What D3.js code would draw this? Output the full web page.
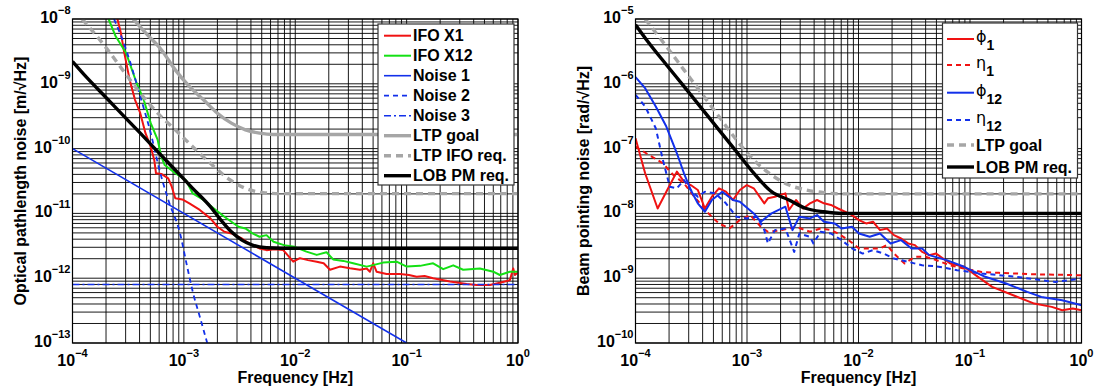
<!DOCTYPE html>
<html><head><meta charset="utf-8">
<script src="https://cdn.jsdelivr.net/npm/d3@7"></script>
<style>
html,body{margin:0;padding:0;background:#fff;}
svg{display:block;}
text{font-family:"Liberation Sans",Arial,Helvetica,sans-serif;font-weight:bold;fill:#000;}
</style></head>
<body>
<script>
// ---------- ticks ----------
const xTicks = [1e-4, 1e-3, 1e-2, 1e-1, 1];
const xTickExp = ["\u22124", "\u22123", "\u22122", "\u22121", "0"];
const yTicksL = [1e-13, 1e-12, 1e-11, 1e-10, 1e-9, 1e-8];
const yTickExpL = ["\u221213", "\u221212", "\u221211", "\u221210", "\u22129", "\u22128"];
const yTicksR = [1e-10, 1e-9, 1e-8, 1e-7, 1e-6, 1e-5];
const yTickExpR = ["\u221210", "\u22129", "\u22128", "\u22127", "\u22126", "\u22125"];

// ---------- left panel series [frequency Hz, value] ----------
const ifoX1 = [[2.53e-4,1e-8],[2.72e-4,6.08e-9],[2.92e-4,2.98e-9],[3.26e-4,1.15e-9],[3.64e-4,5.66e-10],[4.06e-4,3.52e-10],[4.52e-4,1.73e-10],[5.04e-4,1.07e-10],[5.42e-4,6.68e-11],[5.62e-4,4.16e-11],[6.27e-4,4.06e-11],[7.24e-4,3.48e-11],[7.78e-4,2.58e-11],[8.37e-4,1.71e-11],[9.68e-4,1.64e-11],[1.12e-3,1.43e-11],[1.39e-3,1.13e-11],[1.73e-3,8.38e-12],[2.00e-3,6.22e-12],[2.31e-3,5.20e-12],[2.67e-3,4.91e-12],[3.32e-3,4.10e-12],[3.84e-3,3.44e-12],[4.78e-3,2.88e-12],[5.52e-3,2.71e-12],[6.5e-3,2.80e-12],[7.80e-3,2.72e-12],[9.59e-3,1.80e-12],[1.10e-2,2.04e-12],[1.30e-2,1.90e-12],[1.56e-2,1.80e-12],[1.80e-2,1.70e-12],[2.05e-2,1.35e-12],[2.52e-2,1.51e-12],[3.10e-2,1.42e-12],[3.81e-2,1.35e-12],[4.38e-2,1.41e-12],[4.68e-2,1.26e-12],[5.01e-2,1.70e-12],[5.37e-2,1.26e-12],[6.61e-2,1.16e-12],[8.71e-2,1.16e-12],[1.05e-1,1.12e-12],[1.23e-1,1.05e-12],[1.45e-1,1.08e-12],[1.73e-1,1.0e-12],[2.45e-1,8.91e-13],[3.46e-1,8.13e-13],[4.25e-1,7.85e-13],[5.60e-1,7.85e-13],[6.87e-1,8.51e-13],[8.45e-1,9.33e-13],[9.06e-1,1.41e-12],[9.38e-1,1.12e-12],[1,1.22e-12]];
const ifoX12 = [[2.11e-4,1e-8],[2.44e-4,5.40e-9],[3.03e-4,2.98e-9],[3.77e-4,1.02e-9],[4.36e-4,5.66e-10],[5.04e-4,2.47e-10],[5.82e-4,1.36e-10],[6.27e-4,7.52e-11],[6.73e-4,5.58e-11],[8.37e-4,4.16e-11],[1.04e-3,3.27e-11],[1.20e-3,2.04e-11],[1.50e-3,1.61e-11],[1.86e-3,1.19e-11],[2.31e-3,8.87e-12],[3.09e-3,6.22e-12],[3.57e-3,5.86e-12],[4.13e-3,4.91e-12],[4.78e-3,4.36e-12],[5.52e-3,4.62e-12],[6.38e-3,3.65e-12],[7.93e-3,3.24e-12],[9.86e-3,3.05e-12],[1.26e-2,2.57e-12],[1.56e-2,2.29e-12],[1.91e-2,2.51e-12],[2.19e-2,1.95e-12],[2.7e-2,1.85e-12],[3.31e-2,1.70e-12],[4.38e-2,1.51e-12],[5.2e-2,1.62e-12],[6.17e-2,1.74e-12],[8.13e-2,1.80e-12],[1.0e-1,1.51e-12],[1.32e-1,1.55e-12],[1.73e-1,1.70e-12],[2.13e-1,1.38e-12],[2.62e-1,1.58e-12],[3.22e-1,1.35e-12],[4.55e-1,1.41e-12],[6.00e-1,1.26e-12],[6.87e-1,1.12e-12],[8.45e-1,1.26e-12],[1,1.26e-12]];
const noise1 = [[1e-4,1e-10],[1e-1,1e-13]];
const noise2 = [[2.36e-4,1e-8],[3.03e-4,3.36e-9],[4.06e-4,6.37e-10],[5.04e-4,1.73e-10],[6.04e-4,4.68e-11],[7.24e-4,1.62e-11],[9.23e-4,4.93e-12],[1.07e-3,1.51e-12],[1.21e-3,5.89e-13],[1.39e-3,2.55e-13],[1.62e-3,1e-13]];
const noise3 = [[1e-4,8.0e-13],[1,8.0e-13]];
const ltpGoalL = [[3.51e-4,1e-8],[4.69e-4,5.73e-9],[6.27e-4,3.36e-9],[8.37e-4,1.64e-9],[1.12e-3,9.10e-10],[1.50e-3,5.66e-10],[2.00e-3,3.52e-10],[2.67e-3,2.47e-10],[3.57e-3,1.95e-10],[4.78e-3,1.73e-10],[6.38e-3,1.65e-10],[1e-2,1.65e-10],[1,1.65e-10]];
const ltpIfoReqL = [[1.22e-4,1e-8],[1.96e-4,3.78e-9],[2.82e-4,1.64e-9],[4.06e-4,7.18e-10],[5.82e-4,3.52e-10],[8.37e-4,1.95e-10],[1.20e-3,1.07e-10],[1.73e-3,5.93e-11],[2.48e-3,3.48e-11],[3.57e-3,2.44e-11],[5.13e-3,2.09e-11],[7.38e-3,2.02e-11],[1,2.02e-11]];
const lobPmL = [[1e-4,2.21e-9],[1.36e-4,1.22e-9],[1.96e-4,6.37e-10],[2.82e-4,3.32e-10],[4.06e-4,1.73e-10],[5.82e-4,8.99e-11],[8.37e-4,4.68e-11],[1.20e-3,2.44e-11],[1.73e-3,1.27e-11],[2.15e-3,7.89e-12],[2.67e-3,5.20e-12],[3.32e-3,3.87e-12],[4.13e-3,3.24e-12],[5.52e-3,2.95e-12],[7.38e-3,2.9e-12],[1,2.9e-12]];

// ---------- right panel series ----------
const phi1 = [[1e-4,1.45e-7],[1.22e-4,4.17e-8],[1.58e-4,1.19e-8],[1.89e-4,2.16e-8],[2.35e-4,4.41e-8],[2.72e-4,3.09e-8],[3.13e-4,2.74e-8],[3.62e-4,2.30e-8],[4.19e-4,1.19e-8],[4.84e-4,1.81e-8],[5.60e-4,2.44e-8],[6.47e-4,2.16e-8],[7.48e-4,1.61e-8],[8.63e-4,2.30e-8],[9.98e-4,2.74e-8],[1.15e-3,2.44e-8],[1.33e-3,1.71e-8],[1.43e-3,1.43e-8],[1.54e-3,1.71e-8],[1.78e-3,1.81e-8],[2.21e-3,2.04e-8],[2.38e-3,1.13e-8],[2.75e-3,1.61e-8],[3.18e-3,1.19e-8],[3.67e-3,1.43e-8],[4.25e-3,1.61e-8],[4.90e-3,1.43e-8],[5.66e-3,1.35e-8],[6.55e-3,1.19e-8],[7.57e-3,1.06e-8],[8.75e-3,9.42e-9],[1.01e-2,7.89e-9],[1.17e-2,7.00e-9],[1.35e-2,7.43e-9],[1.56e-2,5.52e-9],[1.80e-2,5.86e-9],[2.08e-2,4.62e-9],[2.41e-2,4.10e-9],[2.79e-2,3.44e-9],[3.21e-2,3.24e-9],[3.72e-2,2.55e-9],[4.30e-2,2.27e-9],[4.97e-2,2.40e-9],[5.74e-2,2.01e-9],[6.64e-2,1.69e-9],[8.85e-2,1.50e-9],[1.18e-1,1.05e-9],[1.58e-1,7.35e-10],[2.44e-1,5.46e-10],[3.77e-1,4.06e-10],[5.41e-1,3.61e-10],[6.71e-1,3.20e-10],[8.34e-1,3.40e-10],[1,3.20e-10]];
const eta1 = [[1e-4,1.07e-7],[1.32e-4,7.98e-8],[1.76e-4,5.93e-8],[2.18e-4,3.92e-8],[2.72e-4,2.91e-8],[3.37e-4,1.81e-8],[4.51e-4,1.0e-8],[5.60e-4,7.00e-9],[6.95e-4,5.86e-9],[8.63e-4,7.89e-9],[1.07e-3,9.42e-9],[1.33e-3,6.22e-9],[1.54e-3,5.20e-9],[2.06e-3,5.52e-9],[2.75e-3,6.22e-9],[3.67e-3,5.20e-9],[4.56e-3,5.86e-9],[5.66e-3,5.52e-9],[6.55e-3,4.90e-9],[8.15e-3,3.87e-9],[1.01e-2,2.88e-9],[1.26e-2,2.88e-9],[1.56e-2,2.88e-9],[1.80e-2,3.24e-9],[2.08e-2,2.40e-9],[2.59e-2,1.69e-9],[3.21e-2,2.14e-9],[4.00e-2,2.14e-9],[4.97e-2,1.90e-9],[6.64e-2,1.58e-9],[8.85e-2,1.41e-9],[1.27e-1,1.25e-9],[1.82e-1,1.21e-9],[3.77e-1,1.15e-9],[1,1.11e-9]];
const phi12 = [[1e-4,1.27e-6],[1.22e-4,8.57e-7],[1.52e-4,4.47e-7],[1.89e-4,2.19e-7],[2.35e-4,8.47e-8],[2.72e-4,4.16e-8],[3.13e-4,2.30e-8],[3.62e-4,1.43e-8],[4.19e-4,1.06e-8],[4.84e-4,1.61e-8],[6.01e-4,2.16e-8],[7.48e-4,1.61e-8],[8.63e-4,1.51e-8],[1.15e-3,1.0e-8],[1.33e-3,7.43e-9],[1.66e-3,1.0e-8],[2.21e-3,1.27e-8],[2.56e-3,5.52e-9],[2.95e-3,8.87e-9],[3.67e-3,8.36e-9],[4.25e-3,9.42e-9],[4.90e-3,7.43e-9],[6.10e-3,7.00e-9],[7.05e-3,5.86e-9],[8.75e-3,6.22e-9],[1.01e-2,4.90e-9],[1.26e-2,4.36e-9],[1.56e-2,4.90e-9],[1.94e-2,3.44e-9],[2.41e-2,3.87e-9],[2.99e-2,2.88e-9],[3.72e-2,2.88e-9],[4.30e-2,2.27e-9],[6.17e-2,1.90e-9],[8.85e-2,1.50e-9],[1.37e-1,1.05e-9],[2.11e-1,8.28e-10],[3.26e-1,6.15e-10],[4.36e-1,5.14e-10],[6.71e-1,4.57e-10],[1,3.82e-10]];
const eta12 = [[1e-4,6.76e-7],[1.22e-4,4.47e-7],[1.52e-4,2.06e-7],[1.76e-4,6.68e-8],[2.03e-4,2.58e-8],[2.35e-4,2.44e-8],[2.72e-4,3.27e-8],[3.13e-4,2.30e-8],[3.62e-4,1.81e-8],[4.19e-4,2.16e-8],[5.20e-4,2.04e-8],[6.47e-4,1.43e-8],[8.04e-4,8.87e-9],[9.98e-4,8.36e-9],[1.24e-3,8.87e-9],[1.43e-3,5.52e-9],[1.54e-3,3.44e-9],[1.78e-3,5.52e-9],[2.21e-3,5.86e-9],[2.65e-3,2.55e-9],[2.95e-3,4.90e-9],[3.67e-3,4.36e-9],[3.94e-3,3.44e-9],[4.56e-3,5.20e-9],[5.66e-3,4.90e-9],[7.05e-3,3.87e-9],[8.75e-3,2.88e-9],[1.09e-2,2.40e-9],[1.35e-2,2.71e-9],[1.68e-2,2.40e-9],[2.08e-2,2.01e-9],[2.79e-2,1.79e-9],[3.72e-2,1.58e-9],[4.97e-2,1.53e-9],[7.66e-2,1.33e-9],[1.27e-1,1.18e-9],[2.62e-1,1.05e-9],[4.36e-1,9.31e-10],[5.81e-1,8.77e-10],[1,9.89e-10]];
const ltpGoalR = [[1.22e-4,1e-5],[1.89e-4,3.78e-6],[2.72e-4,1.64e-6],[3.90e-4,7.18e-7],[5.60e-4,3.13e-7],[8.04e-4,1.36e-7],[1.15e-3,6.68e-8],[1.66e-3,3.92e-8],[2.38e-3,2.74e-8],[3.41e-3,2.30e-8],[4.90e-3,2.09e-8],[7.0e-3,2.0e-8],[1,2.0e-8]];
const lobPmR = [[1e-4,8.17e-6],[1.32e-4,4.26e-6],[1.89e-4,1.97e-6],[2.72e-4,9.12e-7],[3.90e-4,4.21e-7],[5.60e-4,1.95e-7],[8.04e-4,8.99e-8],[1.15e-3,4.17e-8],[1.66e-3,2.16e-8],[2.38e-3,1.61e-8],[3.41e-3,1.19e-8],[4.90e-3,1.06e-8],[7.05e-3,1.0e-8],[1,1.0e-8]];

// ---------- drawing ----------
const W = 1094, H = 389;
const RED = "#f01212", GREEN = "#14e014", BLUE = "#1230ea", GRAY = "#a6a6a6", BLACK = "#000";
const svg = d3.select("body").append("svg").attr("width", W).attr("height", H);

function panel(cfg) {
  const x = d3.scaleLog().domain([1e-4, 1]).range([cfg.x0, cfg.x1]);
  const y = d3.scaleLog().domain(cfg.yDomain).range([cfg.y1, cfg.y0]);
  const g = svg.append("g");
  const clipId = "clip" + cfg.id;
  g.append("clipPath").attr("id", clipId).append("rect")
    .attr("x", cfg.x0).attr("y", cfg.y0).attr("width", cfg.x1 - cfg.x0).attr("height", cfg.y1 - cfg.y0);

  // grid
  const grid = g.append("g").attr("stroke", "#000").attr("stroke-opacity", 0.9).attr("stroke-width", 1);
  grid.selectAll(".vg").data(x.ticks()).join("line")
    .attr("x1", d => x(d)).attr("x2", d => x(d)).attr("y1", cfg.y0).attr("y2", cfg.y1);
  grid.selectAll(".hg").data(y.ticks()).join("line")
    .attr("y1", d => y(d)).attr("y2", d => y(d)).attr("x1", cfg.x0).attr("x2", cfg.x1);

  // series
  const lineLin = d3.line().x(d => x(d[0])).y(d => y(d[1]));
  const lineSmooth = d3.line().x(d => x(d[0])).y(d => y(d[1])).curve(d3.curveMonotoneX);
  const sg = g.append("g").attr("clip-path", `url(#${clipId})`);
  cfg.series.forEach(s => {
    sg.append("path").datum(s.data)
      .attr("d", s.smooth ? lineSmooth : lineLin)
      .attr("fill", "none").attr("stroke", s.color).attr("stroke-width", s.w)
      .attr("stroke-dasharray", s.dash || null)
      .attr("stroke-linejoin", "round");
  });

  // box
  g.append("rect").attr("x", cfg.x0).attr("y", cfg.y0).attr("width", cfg.x1 - cfg.x0).attr("height", cfg.y1 - cfg.y0)
    .attr("fill", "none").attr("stroke", "#000").attr("stroke-width", 1.2);

  // x tick labels
  xTicks.forEach((t, i) => {
    const tx = g.append("text").attr("x", x(t)).attr("y", cfg.y1 + 23).attr("text-anchor", "middle").attr("font-size", 16);
    tx.append("tspan").text("10");
    tx.append("tspan").attr("dy", -9).attr("font-size", 11).text(xTickExp[i]);
  });
  // y tick labels
  cfg.yTicks.forEach((t, i) => {
    const ty = g.append("text").attr("x", cfg.x0 - 2).attr("y", y(t) + 4).attr("text-anchor", "end").attr("font-size", 16);
    ty.append("tspan").text("10");
    ty.append("tspan").attr("dy", -9).attr("font-size", 11).text(cfg.yExp[i]);
  });

  // axis labels
  g.append("text").attr("x", (cfg.x0 + cfg.x1) / 2).attr("y", 383).attr("text-anchor", "middle")
    .attr("font-size", 16).text("Frequency [Hz]");
  g.append("text").attr("transform", `translate(${cfg.ylabelX},${(cfg.y0 + cfg.y1) / 2}) rotate(-90)`)
    .attr("text-anchor", "middle").attr("font-size", 16).text(cfg.ylabel);

  // legend
  const L = cfg.legend;
  const lg = g.append("g");
  lg.append("rect").attr("x", L.x).attr("y", L.y).attr("width", L.w).attr("height", L.h)
    .attr("fill", "#fff").attr("stroke", "#333").attr("stroke-width", 1.2);
  cfg.series.forEach((s, i) => {
    const ry = L.rows[i];
    lg.append("line").attr("x1", L.lx0).attr("x2", L.lx1).attr("y1", ry).attr("y2", ry)
      .attr("stroke", s.color).attr("stroke-width", s.w).attr("stroke-dasharray", s.dash || null);
    if (s.greek) {
      const t = lg.append("text").attr("x", L.tx).attr("y", ry + 3);
      t.append("tspan").attr("font-family", "DejaVu Sans").attr("font-weight", "normal").attr("font-size", 16).text(s.greek);
      t.append("tspan").attr("dy", 8).attr("font-size", 14).text(s.sub);
    } else {
      lg.append("text").attr("x", L.tx).attr("y", ry + 5.5).attr("font-size", 16).text(s.label);
    }
  });
}

panel({
  id: "L", x0: 72.5, x1: 518, y0: 19, y1: 343,
  yDomain: [1e-13, 1e-8], yTicks: yTicksL, yExp: yTickExpL,
  ylabel: "Optical pathlength noise [m/\u221AHz]", ylabelX: 26,
  series: [
    {label: "IFO X1", data: ifoX1, color: RED, w: 2},
    {label: "IFO X12", data: ifoX12, color: GREEN, w: 2},
    {label: "Noise 1", data: noise1, color: BLUE, w: 1.6},
    {label: "Noise 2", data: noise2, color: BLUE, w: 1.8, dash: "5,4", smooth: true},
    {label: "Noise 3", data: noise3, color: BLUE, w: 1.6, dash: "7,3,2,3"},
    {label: "LTP goal", data: ltpGoalL, color: GRAY, w: 3.4, smooth: true},
    {label: "LTP IFO req.", data: ltpIfoReqL, color: GRAY, w: 3.4, dash: "7,5", smooth: true},
    {label: "LOB PM req.", data: lobPmL, color: BLACK, w: 3.4, smooth: true}
  ],
  legend: {x: 378, y: 24, w: 136, h: 161, lx0: 384, lx1: 411, tx: 413,
           rows: [35.7, 55.7, 75.7, 95.7, 115.7, 135.7, 155.7, 175.7]}
});

panel({
  id: "R", x0: 635.5, x1: 1081.5, y0: 19, y1: 343,
  yDomain: [1e-10, 1e-5], yTicks: yTicksR, yExp: yTickExpR,
  ylabel: "Beam pointing noise [rad/\u221AHz]", ylabelX: 589,
  series: [
    {greek: "\u03D5", sub: "1", data: phi1, color: RED, w: 2},
    {greek: "\u03B7", sub: "1", data: eta1, color: RED, w: 2, dash: "5,4"},
    {greek: "\u03D5", sub: "12", data: phi12, color: BLUE, w: 2},
    {greek: "\u03B7", sub: "12", data: eta12, color: BLUE, w: 2, dash: "5,4"},
    {label: "LTP goal", data: ltpGoalR, color: GRAY, w: 3.4, dash: "7,5", smooth: true},
    {label: "LOB PM req.", data: lobPmR, color: BLACK, w: 3.4, smooth: true}
  ],
  legend: {x: 942.5, y: 23, w: 135, h: 155, lx0: 947, lx1: 974, tx: 976,
           rows: [39, 65, 92.7, 120, 145, 167]}
});
</script>
</body></html>
